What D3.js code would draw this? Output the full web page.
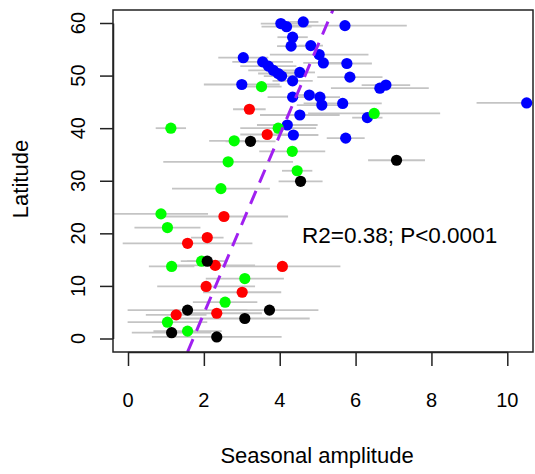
<!DOCTYPE html>
<html>
<head>
<meta charset="utf-8">
<script src="https://cdn.jsdelivr.net/npm/d3@7"></script>
<style>
  body { margin: 0; background: #fff; }
  text { font-family: "Liberation Sans", Arial, sans-serif; fill: #000; }
</style>
</head>
<body>
<div id="chart"></div>
<script>
var svgWidth = 535;
var svgHeight = 474;

// plot box (pixels)
var box = { left: 113, right: 533, top: 10, bottom: 352 };

// data: seasonal amplitude, latitude, half-width of the error bar, group
var amplitude = [
    4.03, 4.18, 4.62, 5.72, 4.34, 4.30, 4.82, 3.04, 5.04, 5.15, 5.77, 3.55, 3.70, 3.83, 3.96, 4.05, 4.53,
    4.34, 5.85, 3.00, 6.64, 6.80, 4.34, 4.78, 5.06, 5.11, 5.66, 4.53, 6.31, 4.20, 4.36, 5.74, 10.51,
    3.52, 6.49, 3.96, 1.13, 2.80, 4.33, 2.64, 4.46, 2.45, 0.87, 1.04, 1.15, 1.94, 3.08, 2.56, 1.04, 1.57,
    3.20, 3.67, 2.53, 2.09, 1.57, 2.30, 4.07, 2.06, 3.01, 1.27, 2.34,
    3.23, 4.55, 7.08, 2.09, 1.57, 3.73, 3.08, 1.15, 2.34
];
var latitude = [
    59.9, 59.3, 60.2, 59.5, 57.3, 55.6, 55.7, 53.4, 54.0, 52.4, 52.3, 52.6, 51.8, 51.0, 50.4, 49.9, 50.6,
    49.0, 49.7, 48.3, 47.6, 48.2, 45.9, 46.3, 45.9, 44.4, 44.7, 42.5, 42.0, 40.6, 38.7, 38.1, 44.8,
    47.9, 42.8, 40.0, 40.0, 37.6, 35.6, 33.6, 31.9, 28.5, 23.7, 21.1, 13.7, 14.7, 11.4, 6.9, 3.1, 1.4,
    43.6, 38.8, 23.2, 19.2, 18.1, 13.9, 13.7, 9.9, 8.8, 4.5, 4.8,
    37.5, 29.9, 33.9, 14.7, 5.4, 5.4, 3.8, 1.1, 0.3
];
var amplitudeErr = [
    0.53, 0.66, 0.40, 1.63, 0.40, 0.37, 0.32, 0.66, 1.30, 0.53, 0.66, 0.80, 0.74, 0.66, 0.53, 0.47, 0.40,
    0.53, 0.86, 1.00, 1.29, 0.64, 0.66, 0.40, 0.53, 0.66, 1.03, 1.05, 0.40, 0.80, 0.66, 0.50, 1.32,
    0.53, 1.74, 1.00, 0.40, 0.66, 0.87, 1.71, 0.40, 1.29, 1.24, 0.87, 0.60, 0.55, 1.03, 0.85, 1.05, 0.90,
    0.43, 0.71, 1.69, 0.43, 1.71, 1.05, 1.53, 1.29, 1.03, 0.80, 1.19,
    0.66, 0.58, 0.75, 0.53, 1.58, 1.29, 1.71, 1.05, 1.71
];
var group = [
    "b","b","b","b","b","b","b","b","b","b","b","b","b","b","b","b","b",
    "b","b","b","b","b","b","b","b","b","b","b","b","b","b","b","b",
    "g","g","g","g","g","g","g","g","g","g","g","g","g","g","g","g","g",
    "r","r","r","r","r","r","r","r","r","r","r",
    "k","k","k","k","k","k","k","k","k"
];
var groupColors = { b: "#0000ff", g: "#00ff00", r: "#ff0000", k: "#000000" };

var xTicks = [0, 2, 4, 6, 8, 10];
var yTicks = [0, 10, 20, 30, 40, 50, 60];

// regression line: latitude = intercept + slope * amplitude
var fitIntercept = -29.2;
var fitSlope = 16.97;
var statsLabel = "R2=0.38; P<0.0001";

var points = amplitude.map(function(a, i) {
    return { amp: a, lat: latitude[i], err: amplitudeErr[i], grp: group[i] };
});

var svg = d3.select("#chart")
    .append("svg")
    .attr("width", svgWidth)
    .attr("height", svgHeight);

var x = d3.scaleLinear().domain([0, 10]).range([128, 507.3]);
var y = d3.scaleLinear().domain([0, 60]).range([338.5, 23]);

// clip for marks inside the box
svg.append("clipPath").attr("id", "plotClip")
    .append("rect")
    .attr("x", box.left).attr("y", box.top)
    .attr("width", box.right - box.left).attr("height", box.bottom - box.top);

var plot = svg.append("g").attr("clip-path", "url(#plotClip)");

// error bars
plot.selectAll("line.err")
    .data(points)
    .enter()
    .append("line")
    .attr("class", "err")
    .attr("x1", d => x(d.amp - d.err))
    .attr("x2", d => x(d.amp + d.err))
    .attr("y1", d => y(d.lat))
    .attr("y2", d => y(d.lat))
    .attr("stroke", "#c4c4c4")
    .attr("stroke-width", 1.8);

// points, drawn group by group
["b", "g", "r", "k"].forEach(function(g) {
    plot.selectAll("circle.pt-" + g)
        .data(points.filter(d => d.grp === g))
        .enter()
        .append("circle")
        .attr("class", "pt-" + g)
        .attr("cx", d => x(d.amp))
        .attr("cy", d => y(d.lat))
        .attr("r", 5.6)
        .attr("fill", groupColors[g]);
});

// fitted line
var latLo = y.invert(box.bottom), latHi = y.invert(box.top);
plot.append("line")
    .attr("x1", x((latLo - fitIntercept) / fitSlope))
    .attr("y1", y(latLo))
    .attr("x2", x((latHi - fitIntercept) / fitSlope))
    .attr("y2", y(latHi))
    .attr("stroke", "#a020f0")
    .attr("stroke-width", 3)
    .attr("stroke-dasharray", "14,9");

// box
svg.append("rect")
    .attr("x", box.left).attr("y", box.top)
    .attr("width", box.right - box.left).attr("height", box.bottom - box.top)
    .attr("fill", "none")
    .attr("stroke", "#222")
    .attr("stroke-width", 1.5);

// x axis
var xAxis = svg.append("g")
    .attr("transform", `translate(0, ${box.bottom})`)
    .call(d3.axisBottom(x).tickValues(xTicks).tickSize(14).tickSizeOuter(0).tickFormat(""));
xAxis.selectAll("path, line").attr("stroke", "#222").attr("stroke-width", 1.5);

svg.selectAll("text.xtick")
    .data(xTicks)
    .enter()
    .append("text")
    .attr("class", "xtick")
    .attr("x", d => x(d))
    .attr("y", 407)
    .attr("text-anchor", "middle")
    .style("font-size", "20px")
    .text(d => d);

// y axis
var yAxis = svg.append("g")
    .attr("transform", `translate(${box.left}, 0)`)
    .call(d3.axisLeft(y).tickValues(yTicks).tickSize(13).tickSizeOuter(0).tickFormat(""));
yAxis.selectAll("path, line").attr("stroke", "#222").attr("stroke-width", 1.5);

svg.selectAll("text.ytick")
    .data(yTicks)
    .enter()
    .append("text")
    .attr("class", "ytick")
    .attr("transform", d => `translate(85, ${y(d)}) rotate(-90)`)
    .attr("text-anchor", "middle")
    .style("font-size", "20px")
    .text(d => d);

// axis titles
svg.append("text")
    .attr("x", (box.left + box.right) / 2 - 6)
    .attr("y", 463)
    .attr("text-anchor", "middle")
    .style("font-size", "22px")
    .text("Seasonal amplitude");

svg.append("text")
    .attr("transform", `translate(28, ${(box.top + box.bottom) / 2 - 2}) rotate(-90)`)
    .attr("text-anchor", "middle")
    .style("font-size", "22px")
    .text("Latitude");

// stats annotation
svg.append("text")
    .attr("x", 302)
    .attr("y", 243)
    .style("font-size", "22.5px")
    .text(statsLabel);
</script>
</body>
</html>
